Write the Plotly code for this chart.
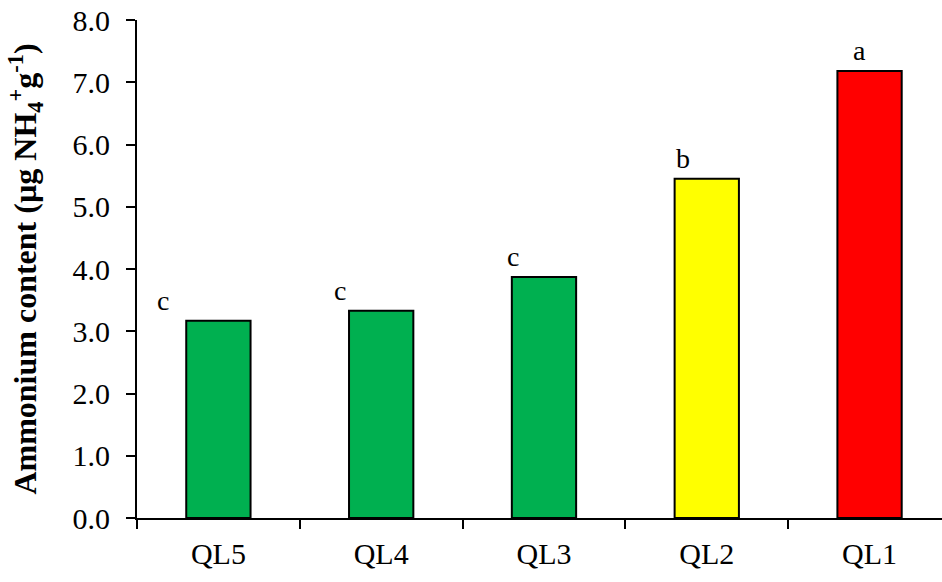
import plotly.graph_objects as go

categories = ["QL5", "QL4", "QL3", "QL2", "QL1"]
values = [3.17, 3.33, 3.87, 5.45, 7.18]
letters = ["c", "c", "c", "b", "a"]
y_ticks = [0, 1, 2, 3, 4, 5, 6, 7, 8]

bar_colors = ["#00B050", "#00B050", "#00B050", "#FFFF00", "#FF0000"]
letter_dx = [-0.34, -0.255, -0.19, -0.145, -0.06]

FONT = "Liberation Serif"

fig = go.Figure()
fig.add_trace(go.Bar(
    x=categories, y=values, width=0.395,
    marker=dict(color=bar_colors, line=dict(color="black", width=2)),
    showlegend=False,
))

for i, (v, t) in enumerate(zip(values, letters)):
    fig.add_annotation(
        x=i + letter_dx[i], y=v, xref="x", yref="y", text=t, showarrow=False,
        yanchor="bottom", xanchor="center", yshift=3,
        font=dict(family=FONT, size=28, color="black"),
    )

fig.update_layout(
    width=942, height=582,
    margin=dict(l=137, r=0, t=20, b=64),
    plot_bgcolor="white", paper_bgcolor="white",
    font=dict(family=FONT, color="black"),
)
fig.update_xaxes(
    type="category", range=[-0.5, 4.445],
    showline=True, linecolor="black", linewidth=2,
    ticks="outside", tickson="boundaries", ticklen=9, tickwidth=2, tickcolor="black",
    tickfont=dict(family=FONT, size=30, color="black"),
    ticklabelstandoff=8,
    showgrid=False, zeroline=False,
)
fig.update_yaxes(
    range=[0, 8], tickvals=y_ticks, tickformat=".1f",
    showline=True, linecolor="black", linewidth=2,
    ticks="outside", ticklen=9, tickwidth=2, tickcolor="black",
    tickfont=dict(family=FONT, size=30, color="black"),
    ticklabelstandoff=10,
    showgrid=False, zeroline=False,
    title=dict(text="<b>Ammonium content (µg NH<sub>4</sub><sup>+</sup>g<sup>-1</sup>)</b>",
               font=dict(family=FONT, size=32, color="black"), standoff=26),
)

fig.write_html("out.html")
